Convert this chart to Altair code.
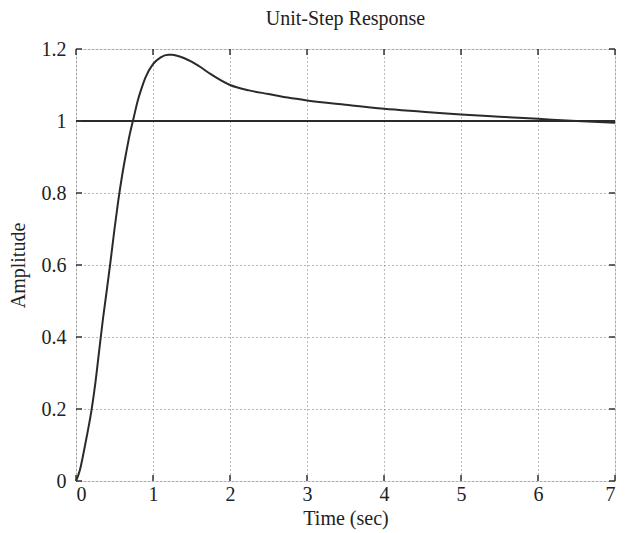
import altair as alt
import pandas as pd

# Unit-step response
time_s = [0, 0.05, 0.1, 0.15, 0.2, 0.25, 0.3, 0.35, 0.4, 0.45, 0.5, 0.55, 0.6,
          0.65, 0.7, 0.75, 0.8, 0.85, 0.9, 1.0, 1.1, 1.2, 1.25, 1.3, 1.4, 1.5,
          1.6, 1.75, 2.0, 2.25, 2.5, 2.75, 3.0, 3.5, 4.0, 4.5, 5.0, 5.5, 6.0,
          6.5, 7.0]
amplitude = [0, 0.03, 0.08, 0.135, 0.195, 0.27, 0.36, 0.45, 0.53, 0.613, 0.70,
             0.78, 0.85, 0.91, 0.965, 1.01, 1.055, 1.09, 1.12, 1.158, 1.177,
             1.184, 1.184, 1.182, 1.175, 1.165, 1.152, 1.13, 1.10, 1.085,
             1.075, 1.065, 1.057, 1.045, 1.034, 1.026, 1.018, 1.012, 1.006,
             1.0, 0.995]

x_ticks = [0, 1, 2, 3, 4, 5, 6, 7]
y_ticks = [0, 0.2, 0.4, 0.6, 0.8, 1, 1.2]
ref_level = [1.0]

FONT = "Liberation Serif"
W, H = 539, 432

df = pd.DataFrame({"t": time_s, "amp": amplitude})
ref_df = pd.DataFrame({"level": ref_level})
xt_df = pd.DataFrame({"t": x_ticks})
yt_df = pd.DataFrame({"a": y_ticks})

xscale = alt.Scale(domain=[0, 7], nice=False, zero=False)
yscale = alt.Scale(domain=[0, 1.2], nice=False, zero=False)

x_axis = alt.Axis(values=x_ticks, title="Time (sec)", grid=True,
                  gridDash=[1, 3], gridColor="#777777", gridWidth=1,
                  domain=False, ticks=False, labelFont=FONT, labelFontSize=20,
                  labelColor="#222222", labelPadding=3, titleFont=FONT,
                  titleFontSize=20, titleFontWeight="normal",
                  titleColor="#222222", titlePadding=4, format="~g")
y_axis = alt.Axis(values=y_ticks, title="Amplitude", grid=True,
                  gridDash=[1, 3], gridColor="#777777", gridWidth=1,
                  domain=False, ticks=False, labelFont=FONT, labelFontSize=20,
                  labelColor="#222222", labelPadding=10, titleFont=FONT,
                  titleFontSize=20, titleFontWeight="normal",
                  titleColor="#222222", titlePadding=13, format="~g")

curve = alt.Chart(df).mark_line(color="#2a2a2a", strokeWidth=2,
                                interpolate="monotone").encode(
    x=alt.X("t:Q", scale=xscale, axis=x_axis),
    y=alt.Y("amp:Q", scale=yscale, axis=y_axis),
)

ref = alt.Chart(ref_df).mark_rule(color="#2a2a2a", strokeWidth=2).encode(
    y=alt.Y("level:Q", scale=yscale),
)

tick_style = dict(color="#333333", strokeWidth=1.5)
xt_bottom = alt.Chart(xt_df).mark_rule(**tick_style).encode(
    x=alt.X("t:Q", scale=xscale), y=alt.value(H), y2=alt.value(H - 6))
xt_top = alt.Chart(xt_df).mark_rule(**tick_style).encode(
    x=alt.X("t:Q", scale=xscale), y=alt.value(0), y2=alt.value(6))
yt_left = alt.Chart(yt_df).mark_rule(**tick_style).encode(
    y=alt.Y("a:Q", scale=yscale), x=alt.value(0), x2=alt.value(6))
yt_right = alt.Chart(yt_df).mark_rule(**tick_style).encode(
    y=alt.Y("a:Q", scale=yscale), x=alt.value(W), x2=alt.value(W - 6))

chart = alt.layer(curve, ref, xt_bottom, xt_top, yt_left, yt_right).properties(
    width=W, height=H,
    title=alt.TitleParams("Unit-Step Response", font=FONT, fontSize=20,
                          fontWeight="normal", color="#222222", offset=10),
    autosize=alt.AutoSizeParams(type="none"),
    padding={"left": 68, "top": 41, "right": 3, "bottom": 50},
).configure_view(stroke="#222222", strokeWidth=2).configure(background="white")

chart.save("out.html", embed_options={"renderer": "svg", "actions": False})
